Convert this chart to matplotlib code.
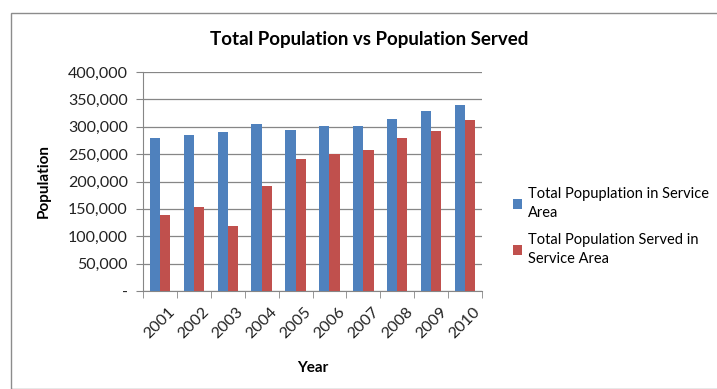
import numpy as np
import matplotlib.pyplot as plt
from matplotlib.ticker import FuncFormatter
from matplotlib.patches import Rectangle

plt.rcParams['font.family'] = ['Lato', 'DejaVu Sans']

years = ['2001', '2002', '2003', '2004', '2005', '2006', '2007', '2008', '2009', '2010']
total_pop = [279000, 284600, 290700, 304600, 293700, 302200, 301600, 314900, 328900, 339200]
pop_served = [139000, 153500, 118900, 191700, 240900, 250000, 256700, 280300, 292500, 312500]

blue = '#4f81bd'
red = '#c0504d'
grid_c = '#868686'

fig = plt.figure(figsize=(7.17, 3.89), dpi=100)
ax = fig.add_axes([143 / 717, 1 - 291 / 389, 339 / 717, 219 / 389])

x = np.arange(len(years))
w = 0.3
ax.bar(x - w / 2, total_pop, w, color=blue, label='Total Popuplation in Service\nArea', zorder=3)
ax.bar(x + w / 2, pop_served, w, color=red, label='Total Population Served in\nService Area', zorder=3)

ax.set_xlim(-0.5, len(years) - 0.5)
ax.set_ylim(0, 400000)
ax.set_yticks(np.arange(0, 400001, 50000))
ax.yaxis.set_major_formatter(FuncFormatter(lambda v, p: '-' if v == 0 else f'{int(v):,}'))
ax.set_xticks(x)
ax.set_xticklabels(years, rotation=45, ha='center', fontsize=11.5, color='#222222')
ax.set_xticks(np.arange(-0.5, len(years), 1), minor=True)
ax.tick_params(axis='x', which='major', length=0, pad=10)
ax.tick_params(axis='x', which='minor', length=5, color=grid_c)
ax.tick_params(axis='y', length=5, color=grid_c, labelsize=11.5, labelcolor='#222222', pad=6)

ax.grid(axis='y', color=grid_c, linewidth=0.9, zorder=0)
for s in ['top', 'right']:
    ax.spines[s].set_visible(False)
for s in ['left', 'bottom']:
    ax.spines[s].set_color(grid_c)

ax.yaxis.set_label_coords(-92 / 339, 0.5)
ax.set_ylabel('Population', fontsize=11, fontweight='bold')
ax.set_xlabel('Year', fontsize=11, fontweight='bold', labelpad=14)
fig.text(369 / 717, 1 - 40 / 389, 'Total Population vs Population Served', ha='center', va='center',
         fontsize=13.5, fontweight='bold')

leg = fig.legend(loc='upper left', bbox_to_anchor=(500 / 717, 1 - 174 / 389), frameon=False,
                 fontsize=10.5, handlelength=0.6, handleheight=0.6, handletextpad=0.4,
                 labelspacing=0.9)
for t in leg.get_texts():
    t.set_linespacing(1.45)

fig.patches.append(Rectangle((11 / 717, 0), 1.0, 1 - 13 / 389, transform=fig.transFigure,
                             fill=False, edgecolor='#8c8c8c', linewidth=1))

fig.savefig('out.png', dpi=100)
